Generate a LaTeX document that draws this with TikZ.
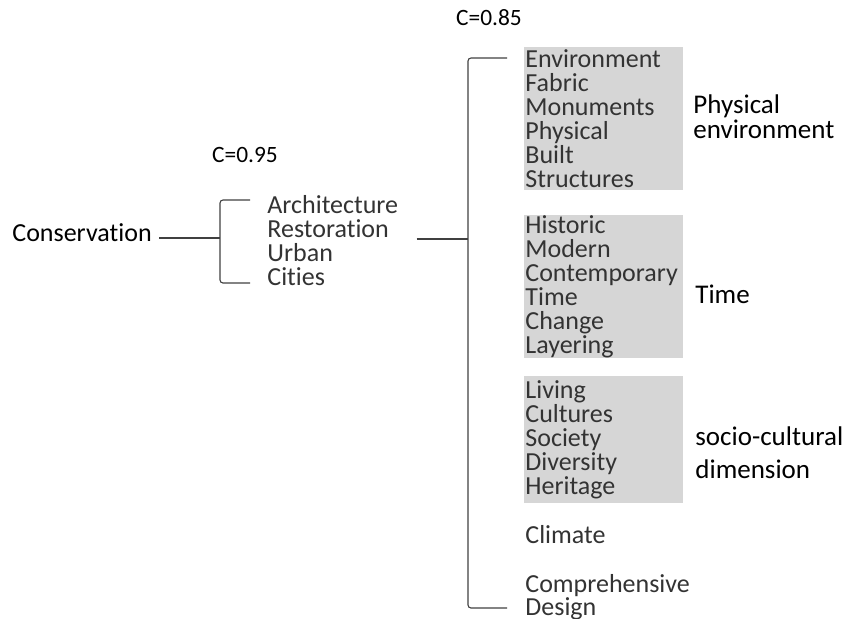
\documentclass[tikz,border=0pt]{standalone}
\usepackage{fontspec}
\setmainfont{Carlito}[Ligatures={NoCommon,NoContextual}]
\usetikzlibrary{positioning}

\tikzset{
  word/.style={font=\fontsize{13pt}{12pt}\selectfont, text=black!80, align=left, inner sep=0pt},
  catbox/.style={word, fill=black!16, text width=78.5pt, inner xsep=0.5pt, anchor=north west},
  catlabel/.style={font=\fontsize{13.5pt}{12.5pt}\selectfont, text=black, align=left, inner sep=0pt, anchor=west},
  coef/.style={font=\fontsize{11.7pt}{12pt}\selectfont, text=black, inner sep=0pt},
  brace/.style={draw=black!75, line width=0.55pt, rounded corners=1.5pt}
}

\begin{document}
\begin{tikzpicture}[x=0.5pt,y=-0.5pt]
\useasboundingbox (0,0) rectangle (848,618);

% first level
\node[word, text=black, anchor=west] (cons) at (12,233) {Conservation};
\node[coef] (c95) at (245,155) {C=0.95};
\node[word, anchor=west] (terms) at (267,241) {Architecture\\Restoration\\Urban\\Cities};
\coordinate (b1top) at (250,200);
\coordinate (b1bot) at (250,283);
\coordinate (b1mid) at (220,238);
\draw[brace] (cons.east |- b1mid) ++(7,0) -- (b1mid);
\draw[brace] (b1top) -- (b1top -| b1mid) -- (b1bot -| b1mid) -- (b1bot);

% second level
\node[coef] (c85) at (489,18) {C=0.85};
\node[catbox, minimum height=71.5pt] (phys) at (524,47) {Environment\\Fabric\\Monuments\\Physical\\Built\\Structures};
\node[catbox, minimum height=71pt] (time) at (524,215) {Historic\\Modern\\Contemporary\\Time\\Change\\Layering};
\node[catbox, minimum height=63.5pt] (socio) at (524,376) {Living\\Cultures\\Society\\Diversity\\Heritage};
\node[word, anchor=west] (clim) at (525,535) {Climate};
\node[word, anchor=west, font=\fontsize{13pt}{11.75pt}\selectfont] (comp) at (525,597) {Comprehensive\\Design};

\node[catlabel] (physlab) at (693,117) {Physical\\[0.2pt]environment};
\node[catlabel] (timelab) at (695,294) {Time};
\node[catlabel, font=\fontsize{13.5pt}{16.5pt}\selectfont] (sociolab) at (695,453) {socio-cultural\\dimension};

\coordinate (b2top) at (507,58);
\coordinate (b2bot) at (507,608);
\coordinate (b2mid) at (468,239);
\draw[brace] (terms.east |- b2mid) ++(18,0) -- (b2mid);
\draw[brace] (b2top) -- (b2top -| b2mid) -- (b2bot -| b2mid) -- (b2bot);
\end{tikzpicture}
\end{document}
